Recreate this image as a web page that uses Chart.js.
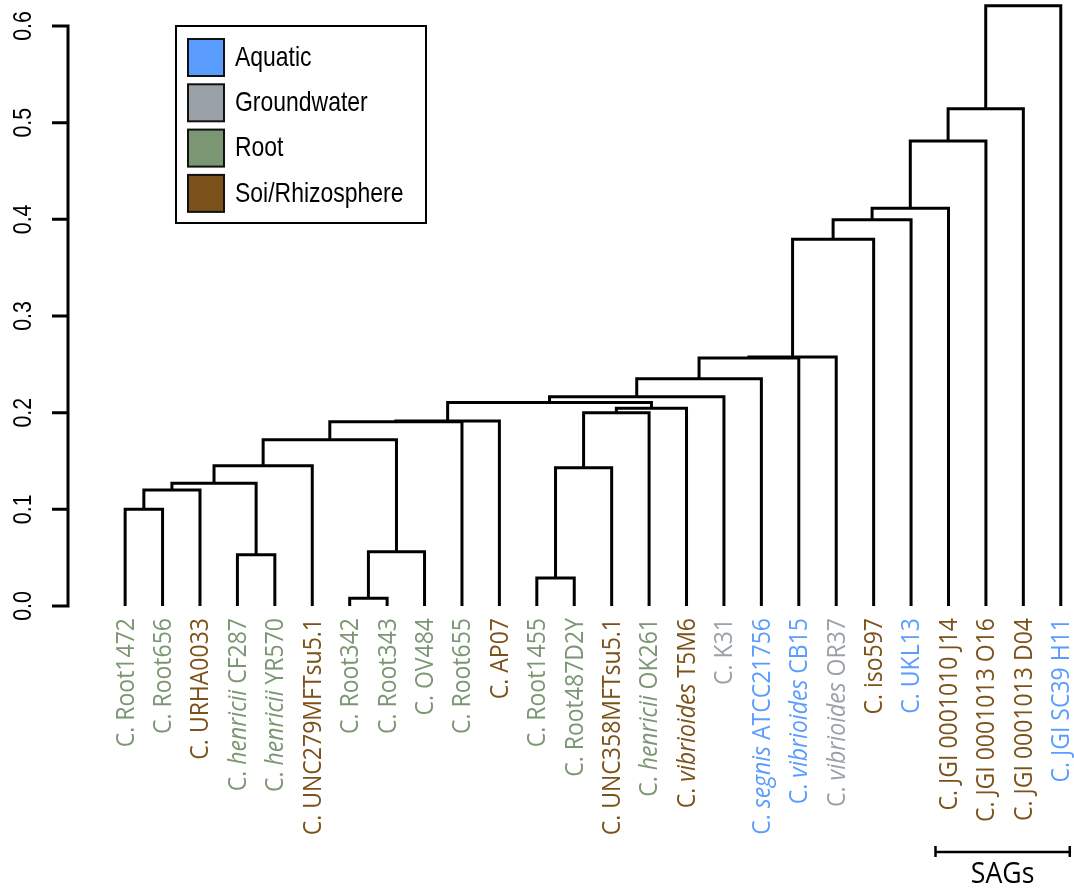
<!DOCTYPE html>
<html>
<head>
<meta charset="utf-8">
<script src="https://cdn.jsdelivr.net/npm/chart.js@4.4.0/dist/chart.umd.min.js"></script>
<style>
html, body { margin: 0; padding: 0; background: #fff; }
#wrap { width: 1074px; height: 890px; }
</style>
</head>
<body>
<div id="wrap"><canvas id="tree" width="1074" height="890"></canvas></div>
<script>
// leaves in plotted order, *...* = italic part
var strains = [
  'C. Root1472', 'C. Root656', 'C. URHA0033', 'C. *henricii* CF287', 'C. *henricii* YR570',
  'C. UNC279MFTsu5.1', 'C. Root342', 'C. Root343', 'C. OV484', 'C. Root655', 'C. AP07',
  'C. Root1455', 'C. Root487D2Y', 'C. UNC358MFTsu5.1', 'C. *henricii* OK261',
  'C. *vibrioides* T5M6', 'C. K31', 'C. *segnis* ATCC21756', 'C. *vibrioides* CB15',
  'C. *vibrioides* OR37', 'C. iso597', 'C. UKL13', 'C. JGI 0001010 J14',
  'C. JGI 0001013 O16', 'C. JGI 0001013 D04', 'C. JGI SC39 H11'
];
// 0 aquatic, 1 groundwater, 2 root, 3 soil
var habitat = [2, 2, 3, 2, 2, 3, 2, 2, 2, 2, 3, 2, 2, 3, 2, 3, 1, 0, 0, 1, 3, 0, 3, 3, 3, 0];
var groups = ['Aquatic', 'Groundwater', 'Root', 'Soi/Rhizosphere'];
var groupColors = ['#5b9dff', '#9aa1a8', '#7b9673', '#7b5219'];

// merge table like hclust: negative = leaf (1-based), positive = earlier merge row
var mergeLeft   = [-7, -12, -4, 1, -1, 5, 6, 2, 7, 9, 10, 11, 8, 13, 12, 15, 16, 17, 18, 19, 20, 21, 22, 23, 24];
var mergeRight  = [-8, -13, -5, -9, -2, -3, 3, -14, -6, 4, -10, -11, -15, -16, 14, -17, -18, -19, -20, -21, -22, -23, -24, -25, -26];
var mergeHeight = [0.008, 0.029, 0.053, 0.056, 0.100, 0.120, 0.127, 0.143, 0.145, 0.172, 0.1905, 0.1915,
                   0.200, 0.2045, 0.2105, 0.2165, 0.235, 0.2565, 0.2575, 0.3795, 0.3995, 0.4115, 0.481, 0.5145, 0.621];

var yTicks = [0, 0.1, 0.2, 0.3, 0.4, 0.5, 0.6];
var sagLeaves = [22, 25];

var nodeX = [], nodeY = [];
function pos(id) {
  if (id < 0) return { x: -id - 1, y: 0 };
  return { x: nodeX[id - 1], y: nodeY[id - 1] };
}

var datasets = [];
for (var i = 0; i < mergeHeight.length; i++) {
  var a = pos(mergeLeft[i]), b = pos(mergeRight[i]), h = mergeHeight[i];
  nodeX.push((a.x + b.x) / 2);
  nodeY.push(h);
  datasets.push({
    data: [{ x: a.x, y: a.y }, { x: a.x, y: h }, { x: b.x, y: h }, { x: b.x, y: b.y }],
    showLine: true,
    borderColor: '#000',
    borderWidth: 3,
    borderJoinStyle: 'miter',
    pointRadius: 0,
    tension: 0,
    fill: false,
    clip: false
  });
}

// text squeezed along its direction, to get a condensed look
function squeezed(ctx, text, x, y, sx) {
  ctx.save();
  ctx.translate(x, y);
  ctx.scale(sx, 1);
  ctx.fillText(text, 0, 0);
  ctx.restore();
}

var extras = {
  id: 'extras',
  afterDraw: function (chart) {
    var ctx = chart.ctx;
    var xs = chart.scales.x, ys = chart.scales.y;
    ctx.save();

    // y axis
    var ax = 68;
    ctx.strokeStyle = '#000';
    ctx.lineWidth = 3;
    ctx.beginPath();
    ctx.moveTo(ax, ys.getPixelForValue(yTicks[0]) + 1.5);
    ctx.lineTo(ax, ys.getPixelForValue(yTicks[yTicks.length - 1]) - 1.5);
    yTicks.forEach(function (t) {
      var py = ys.getPixelForValue(t);
      ctx.moveTo(ax + 1.5, py);
      ctx.lineTo(52, py);
    });
    ctx.stroke();
    ctx.fillStyle = '#000';
    ctx.font = '26px "Liberation Sans", Arial, sans-serif';
    ctx.textAlign = 'center';
    ctx.textBaseline = 'middle';
    yTicks.forEach(function (t) {
      var py = ys.getPixelForValue(t);
      ctx.save();
      ctx.translate(24, py);
      ctx.rotate(-Math.PI / 2);
      squeezed(ctx, t.toFixed(1), 0, 0, 0.82);
      ctx.restore();
    });

    // leaf labels
    var lsx = 0.885;
    strains.forEach(function (name, k) {
      var px = xs.getPixelForValue(k);
      var parts = name.split('*');
      var fonts = parts.map(function (p, j) {
        return (j % 2 ? 'italic ' : '') + '26px "Open Sans", sans-serif';
      });
      var total = 0;
      parts.forEach(function (p, j) { ctx.font = fonts[j]; total += ctx.measureText(p).width; });
      ctx.save();
      ctx.translate(px, 618);
      ctx.rotate(-Math.PI / 2);
      ctx.scale(lsx, 1);
      ctx.fillStyle = groupColors[habitat[k]];
      ctx.textAlign = 'left';
      ctx.textBaseline = 'middle';
      var cx = -total;
      parts.forEach(function (p, j) {
        ctx.font = fonts[j];
        ctx.fillText(p, cx, 1);
        cx += ctx.measureText(p).width;
      });
      ctx.restore();
    });

    // legend
    ctx.lineWidth = 2;
    ctx.strokeStyle = '#000';
    ctx.strokeRect(176, 26, 250, 197);
    ctx.font = '28px "Liberation Sans", Arial, sans-serif';
    ctx.textAlign = 'left';
    ctx.textBaseline = 'middle';
    groups.forEach(function (g, j) {
      var top = 39 + j * 45.3;
      ctx.fillStyle = groupColors[j];
      ctx.fillRect(188, top, 36, 37);
      ctx.strokeStyle = '#111';
      ctx.strokeRect(188, top, 36, 37);
      ctx.fillStyle = '#000';
      squeezed(ctx, g, 235, top + 19, 0.82);
    });

    // SAGs bracket
    var x1 = xs.getPixelForValue(sagLeaves[0]) - 13;
    var x2 = xs.getPixelForValue(sagLeaves[1]) + 9;
    ctx.lineWidth = 2.5;
    ctx.strokeStyle = '#000';
    ctx.beginPath();
    ctx.moveTo(x1, 852); ctx.lineTo(x2, 852);
    ctx.moveTo(x1, 846); ctx.lineTo(x1, 857);
    ctx.moveTo(x2, 846); ctx.lineTo(x2, 857);
    ctx.stroke();
    ctx.fillStyle = '#000';
    ctx.font = '29px "Open Sans", sans-serif';
    ctx.textAlign = 'center';
    ctx.textBaseline = 'alphabetic';
    squeezed(ctx, 'SAGs', (x1 + x2) / 2, 883, 0.92);

    ctx.restore();
  }
};

var ctx = document.getElementById('tree').getContext('2d');
var chart = new Chart(ctx, {
  type: 'scatter',
  data: { datasets: datasets },
  options: {
    responsive: false,
    animation: false,
    devicePixelRatio: 1,
    layout: { padding: { left: 69, right: 2, top: 6, bottom: 284 } },
    plugins: { legend: { display: false }, tooltip: { enabled: false } },
    scales: {
      x: { type: 'linear', min: -1.5, max: 25.3, display: false },
      y: { type: 'linear', min: 0, max: 0.6207, display: false }
    }
  },
  plugins: [extras]
});
</script>
</body>
</html>
